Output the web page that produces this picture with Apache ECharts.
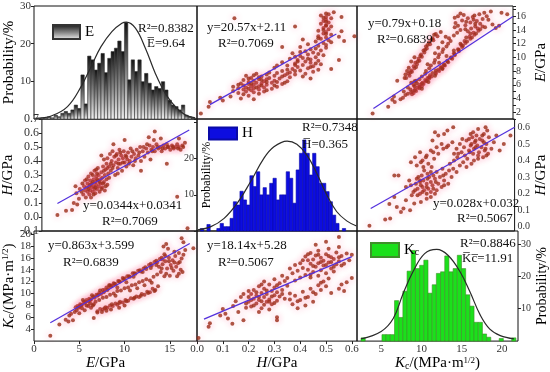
<!DOCTYPE html>
<html><head><meta charset="utf-8">
<script src="https://cdn.jsdelivr.net/npm/echarts@6/dist/echarts.min.js"></script>
<style>html,body{margin:0;padding:0;background:#fff}#c{width:550px;height:372px}</style>
</head><body><div id="c"></div>
<script>
// ---------------- DATA ----------------
// Histogram of E (GPa): bin start, bin width, probabilities (%)
const eBinStart = 0, eBinWidth = 0.37;
const eHist = [0.2,0.2,0.3,0.3,0.6,0.3,1.0,0.6,1.5,2.0,1.5,2.4,3.7,2.8,11.7,4.0,16.7,15.7,13.0,14.8,17.4,12.3,16.1,17.9,18.8,20.7,17.9,25.6,10.4,15.7,12.6,15.7,9.9,12.1,9.5,7.7,8.6,8.1,9.9,7.7,5.0,3.7,3.3,2.4,3.7,1.0,0.6,0.2];
const eCurve = [[0.2,0.2],[1.9,0.8],[3.7,3.3],[5.2,8.6],[6.3,13.9],[7.4,19.2],[8.6,23.2],[9.7,25.4],[10.2,25.7],[11.2,24.1],[12.3,18.8],[13.4,12.1],[14.5,6.8],[15.6,3.3],[16.7,1.1],[17.8,0.3]];
// Histogram of H (GPa)
const hBinStart = 0, hBinWidth = 0.0128;
const hHist = [0,0.7,0,1.8,0,0,0.7,2.1,1.2,1.2,3.5,8.1,7.2,11,8.6,7.2,15.3,12.3,16.4,10,12,10,13.2,14.6,8.6,10,10,16.4,14.6,7.7,16.9,21.5,25.2,21.5,15.5,21.5,17.8,13.2,13.2,10.9,8.1,4.4,2.1,0,0.7,0];
const hCurve = [[0.003,0.3],[0.054,1.2],[0.105,3.5],[0.156,7.7],[0.208,13.7],[0.259,20.1],[0.298,23.3],[0.349,24.9],[0.387,24],[0.426,21],[0.464,16],[0.503,10],[0.541,5.4],[0.58,2.8],[0.618,1.4]];
// Histogram of Kc (MPa·m^1/2)
const kBinStart = 2.5, kBinWidth = 0.52;
const kHist = [1,0,0,0,0,2,2,2,12.5,7.3,15.4,21.6,28,22.4,23.4,25,14.8,17.4,20.9,21.4,26.3,21.4,22.4,26.5,22.4,14.3,10.8,5.8,5.8,2.2,1.2,0,0,0.8,0,0,1];
const kCurve = [[2.5,0.7],[5,3.0],[6.5,7.0],[7.7,14.5],[8.95,21.4],[10.4,27],[11.9,28.3],[13.3,26.5],[14.8,21.4],[16,15.4],[17.3,8.1],[18.5,3.7],[19.8,1.7],[21.5,0.7]];

// Sample pairs [E, H]
const ptsEH = [[1.8,0.015],[2.8,0.045],[3.5,0.05],[3.7,0.1],[4.1,0.09],[4.3,0.13],[4.0,0.17],[4.4,0.2],[3.9,0.22],
[4.8,0.16],[4.9,0.22],[5.0,0.19],[5.0,0.26],[5.1,0.14],[5.2,0.21],[5.3,0.18],[5.3,0.24],[5.4,0.29],[5.5,0.16],[5.5,0.22],[5.6,0.19],[5.6,0.26],[5.7,0.14],[5.7,0.31],[5.8,0.21],[5.8,0.24],[5.9,0.18],[6.0,0.27],[6.0,0.22],[6.1,0.2],[6.1,0.33],[6.2,0.25],[6.2,0.17],[6.3,0.23],[6.3,0.29],[6.4,0.2],[6.5,0.26],[6.5,0.35],[6.6,0.22],[6.6,0.3],[6.7,0.18],[6.8,0.27],[6.8,0.24],[6.9,0.32],[7.0,0.21],[7.0,0.28],[7.1,0.36],[7.2,0.25],[7.3,0.3],[7.3,0.19],[7.4,0.34],[7.5,0.27],[7.6,0.23],[7.7,0.31],
[5.2,0.27],[5.4,0.2],[5.6,0.23],[5.9,0.25],[6.0,0.16],[6.2,0.21],[6.4,0.27],[6.4,0.31],[6.7,0.25],[6.9,0.2],[7.1,0.24],[7.2,0.33],[7.4,0.22],[7.8,0.28],[4.6,0.18],[4.7,0.24],[5.9,0.3],[6.3,0.34],[7.6,0.35],[8.8,0.31],
[7.5,0.38],[7.6,0.42],[7.8,0.36],[7.9,0.45],[8.0,0.33],[8.1,0.4],[8.2,0.47],[8.3,0.37],[8.4,0.43],[8.5,0.3],[8.6,0.39],[8.7,0.45],[8.8,0.35],[8.9,0.41],[9.0,0.48],[9.1,0.38],[9.2,0.44],[9.3,0.33],[9.4,0.42],[9.5,0.47],[9.6,0.39],[9.7,0.44],[9.8,0.36],[9.9,0.41],[10.0,0.46],[10.2,0.4],[10.3,0.49],[10.4,0.43],[10.6,0.37],[10.7,0.45],[10.9,0.42],[11.0,0.48],[11.2,0.44],[11.4,0.5],[11.5,0.4],[11.7,0.47],[11.9,0.43],[8.3,0.52],[9.6,0.55],[7.2,0.41],[6.9,0.44],
[8.0,0.38],[8.2,0.35],[8.6,0.44],[8.9,0.38],[9.1,0.46],[9.4,0.39],[9.8,0.43],[10.1,0.38],[10.5,0.47],[10.8,0.4],[11.3,0.46],[11.8,0.5],
[12.1,0.49],[12.3,0.46],[12.5,0.51],[12.7,0.48],[12.9,0.5],[13.1,0.47],[13.3,0.52],[13.5,0.49],[13.7,0.5],[13.9,0.47],[14.1,0.51],[14.3,0.49],[14.5,0.52],[14.7,0.5],[14.9,0.48],[15.1,0.51],[15.3,0.49],[15.5,0.5],[15.7,0.52],[15.9,0.5],[16.1,0.48],[16.3,0.51],[16.6,0.53],[13.0,0.55],[13.8,0.56],[12.4,0.57],[13.1,0.61],[15.9,0.56],
[12.2,0.52],[12.8,0.47],[13.4,0.5],[14.0,0.49],[14.6,0.5],[15.2,0.5],[15.8,0.49],[16.4,0.5],
[14.5,0.38],[15.7,0.145],[16.9,-0.08],[11.5,0.33],[12.6,0.41]];

// Sample pairs [E, Kc]
const ptsEK = [[4.6,7.7],[4.8,7.9],[5.0,7.8],[5.1,8.2],[5.3,8.1],[5.5,8.6],[5.6,8.4],[5.8,8.9],[6.0,8.7],[6.1,9.1],[6.3,9.0],[6.5,9.4],[6.7,9.3],[6.9,9.8],[7.0,9.6],[7.2,10.1],[7.4,9.9],[7.6,10.6],[7.8,10.6],[8.0,11.0],[8.2,10.9],[8.4,11.4],[8.6,11.3],[8.8,11.7],[9.0,11.6],[9.3,12.1],[9.5,12.0],[9.8,12.6],[10.0,12.5],[10.3,12.9],[10.6,12.8],[10.9,13.4],[11.2,13.3],[11.5,13.8],[11.8,13.7],[12.1,14.2],[12.4,14.1],[12.7,14.8],[13.0,14.7],[13.3,15.3],[13.6,15.2],[13.9,15.8],[14.2,15.7],[14.5,16.3],
[4.9,7.6],[5.2,8.0],[5.7,8.6],[6.2,8.9],[6.6,9.5],[7.1,9.8],[7.7,10.2],[8.1,10.6],[8.5,11.2],[8.9,11.6],[9.4,12.0],[9.9,12.4],[10.5,12.9],[11.1,13.4],[11.7,13.9],[12.3,14.4],[12.9,15.0],[13.5,15.5],[14.1,16.0],[14.4,16.6],
[9.2,11.0],[10.2,11.9],[11.0,12.8],[12.0,13.6],[12.9,14.3],[13.5,14.8],[5.4,8.9],[6.4,9.7],[7.3,10.5],[8.3,11.4],
[7.0,7.0],[7.3,7.4],[7.6,7.3],[7.9,7.7],[8.1,7.6],[8.4,8.0],[8.7,7.9],[9.0,8.3],[9.2,8.1],[9.5,8.6],[9.8,8.5],[10.1,8.9],[10.4,8.8],[10.7,9.2],[11.0,9.1],[11.3,9.5],[11.6,9.4],[11.9,9.9],[12.2,9.8],[12.5,10.3],[12.8,10.2],[13.1,10.8],[13.4,10.6],[13.7,11.2],
[7.8,7.5],[8.6,8.2],[9.4,8.4],[10.2,8.7],[11.1,9.3],[11.8,9.6],[12.6,10.1],[13.3,10.4],
[6.8,8.6],[7.2,8.9],[7.6,9.3],[8.0,9.4],[8.4,9.8],[8.8,10.0],[9.2,10.4],[9.6,10.5],[10.0,10.9],[10.4,11.0],[10.8,11.4],[11.2,11.5],[11.6,11.9],[12.0,12.1],[12.4,12.4],[12.8,12.2],[13.2,12.8],
[9.0,9.6],[10.6,10.5],[11.4,10.9],[12.2,11.4],[13.0,11.8],
[13.6,13.2],[13.8,14.5],[14.0,13.6],[14.2,14.9],[14.4,12.9],[14.5,15.4],[14.7,14.2],[14.9,16.0],[15.0,13.0],[15.1,14.8],[15.3,15.6],[15.4,13.8],[15.6,16.3],[15.7,14.5],[15.8,12.9],[15.9,15.1],[16.0,16.8],[16.2,14.0],[16.3,15.9],[16.5,16.5],[16.7,17.3],[16.0,13.3],[15.5,17.0],[14.8,17.5],[14.3,17.9],[14.6,18.3],
[14.1,14.2],[14.6,13.3],[15.2,14.3],[15.5,15.2],[16.1,15.3],[16.4,13.6],[14.9,15.4],
[16.3,19.3],[16.5,18.6],[17.6,17.6],
[1.8,2.9],[2.8,4.8],[3.5,5.6],[3.8,5.3],[4.1,6.6],[4.3,5.5],[3.9,6.3],[4.5,6.9],[4.7,7.2],[5.0,6.7],[5.3,7.5],[5.6,7.2],[6.0,7.9],[6.3,7.6],[6.6,8.2],
[6.6,5.9],[7.0,6.8],[7.5,6.9],[8.0,7.1],[8.5,7.3],[9.4,7.6],[10.0,8.0],[5.8,8.0],[6.2,8.3],[6.5,8.0]];

// Sample pairs [H, Kc]
const ptsHK = [[0.006,2.5],[0.045,4.4],[0.05,5.0],[0.09,6.3],[0.1,7.4],[0.11,6.6],[0.12,5.8],[0.137,4.9],[0.14,7.9],[0.15,8.7],[0.16,6.9],[0.18,5.5],[0.17,9.4],[0.19,7.6],
[0.2,8.6],[0.21,9.9],[0.21,7.8],[0.22,9.1],[0.22,10.6],[0.23,8.3],[0.23,9.6],[0.24,11.2],[0.24,8.9],[0.25,10.1],[0.25,7.5],[0.26,9.4],[0.26,10.8],[0.27,8.6],[0.27,9.9],[0.28,11.5],[0.28,9.0],[0.29,10.4],[0.29,8.2],[0.3,9.7],[0.3,11.0],[0.31,10.2],[0.31,8.8],[0.32,11.7],[0.32,9.5],[0.33,10.6],[0.34,12.1],[0.34,9.1],[0.35,11.3],[0.36,10.0],[0.2,10.4],[0.18,9.9],[0.26,12.0],[0.3,12.4],[0.24,6.9],[0.28,7.3],[0.31,6.0],[0.31,5.5],
[0.21,8.9],[0.22,8.0],[0.23,10.2],[0.24,9.4],[0.25,8.7],[0.25,11.5],[0.26,8.1],[0.27,10.5],[0.28,8.6],[0.29,9.5],[0.3,8.4],[0.31,11.4],[0.33,9.9],[0.19,8.3],[0.2,9.4],
[0.33,13.0],[0.35,12.6],[0.36,14.2],[0.37,13.4],[0.38,12.2],[0.38,14.8],[0.39,13.8],[0.4,12.7],[0.4,15.1],[0.41,14.3],[0.42,13.1],[0.43,15.6],
[0.42,16.2],[0.43,14.0],[0.44,15.0],[0.44,16.8],[0.45,13.6],[0.45,15.7],[0.46,14.5],[0.46,16.4],[0.47,15.1],[0.47,17.2],[0.48,13.9],[0.48,16.0],[0.49,14.7],[0.49,15.5],[0.5,16.6],[0.5,13.4],[0.51,15.2],[0.51,17.5],[0.52,14.2],[0.52,16.1],[0.53,15.8],[0.53,13.7],[0.54,16.9],[0.54,14.9],[0.55,15.4],[0.55,17.8],[0.56,16.3],[0.57,15.0],[0.58,16.7],[0.59,15.6],[0.55,19.5],[0.5,18.7],[0.46,18.2],[0.6,16.5],
[0.43,16.6],[0.45,14.6],[0.47,16.5],[0.48,15.3],[0.5,14.8],[0.51,16.3],[0.52,15.3],[0.53,14.5],[0.55,16.1],[0.56,14.7],[0.41,15.6],[0.44,13.2],
[0.37,8.2],[0.38,9.6],[0.39,7.5],[0.4,8.9],[0.41,10.3],[0.42,8.0],[0.43,9.4],[0.44,10.8],[0.45,8.6],[0.46,9.9],[0.47,11.4],[0.48,10.6],[0.49,12.0],[0.5,11.2],[0.51,12.5],[0.52,10.1],[0.44,12.7],[0.47,13.0],
[0.36,9.0],[0.39,8.7],[0.42,9.3],[0.45,10.2],[0.48,11.8],
[0.55,10.8],[0.56,11.5],[0.57,10.4],[0.58,11.9],[0.6,12.6]];

// Fitted lines (end points)
const fitHE = [[0.05,3.1],[0.54,13.4]];   // E = 20.57H + 2.11
const fitKE = [[3.0,2.55],[20,15.98]];    // E = 0.79Kc + 0.18
const fitEH = [[1.8,0.096],[17.1,0.622]]; // H = 0.0344E + 0.0341
const fitKH = [[2.65,0.11],[20,0.6]];     // H = 0.028Kc + 0.032
const fitEK = [[1.8,5.1],[17.2,18.4]];    // Kc = 0.863E + 3.599
const fitHK = [[0.027,5.7],[0.6,16.2]];   // Kc = 18.14H + 5.28

// ---------------- CHART ----------------
const FF = '"Liberation Serif","Times New Roman",serif';
const chart = echarts.init(document.getElementById('c'));
const X = [34,197,357,518], Y = [6,119,231,343];
const grid = [];
for (let r = 0; r < 3; r++) for (let c = 0; c < 3; c++)
  grid.push({left:X[c], top:Y[r], width:X[c+1]-X[c], height:Y[r+1]-Y[r], show:true, borderColor:'#111', borderWidth:1, backgroundColor:'rgba(0,0,0,0)'});

const richName = {
  i:{fontStyle:'italic', fontFamily:FF, fontSize:15, color:'#000'},
  sub:{fontFamily:FF, fontSize:10, verticalAlign:'bottom', color:'#000'},
  sup:{fontFamily:FF, fontSize:9, verticalAlign:'top', color:'#000'},
  n:{fontFamily:FF, fontSize:15, color:'#000'}
};
function ax(o){
  return Object.assign({type:'value', axisLine:{show:false}, axisTick:{show:false}, axisLabel:{show:false}, splitLine:{show:false}}, o);
}
const lbl = (size, extra) => Object.assign({show:true, fontFamily:FF, fontSize:size, color:'#333', margin:3}, extra||{});
const tick = {show:true, inside:false, length:3, lineStyle:{color:'#222'}};
const nameStyle = (size, extra) => Object.assign({fontFamily:FF, fontSize:size, color:'#000', rich:richName}, extra||{});

const kcName = '{i|K}{sub|c}{n|/(MPa·m}{sup|1/2}{n|)}';

const xAxis = [
  ax({gridIndex:0, min:0, max:18}),
  ax({gridIndex:1, min:0, max:0.62}),
  ax({gridIndex:2, min:1, max:20}),
  ax({gridIndex:3, min:0, max:18}),
  ax({gridIndex:4, min:0, max:0.62}),
  ax({gridIndex:5, min:1, max:20}),
  ax({gridIndex:6, min:0, max:18, interval:5, axisTick:tick, axisLabel:lbl(11,{showMaxLabel:false}),
      name:'{i|E}{n|/GPa}', nameLocation:'middle', nameGap:14, nameTextStyle:nameStyle(15,{padding:[0,20,0,0]})}),
  ax({gridIndex:7, min:0, max:0.62, interval:0.1, axisTick:tick, axisLabel:lbl(11,{showMaxLabel:false, formatter:v=>v.toFixed(1)}),
      name:'{i|H}{n|/GPa}', nameLocation:'middle', nameGap:14, nameTextStyle:nameStyle(15)}),
  ax({gridIndex:8, min:2, max:22, interval:1, axisLabel:lbl(11,{formatter:v=>(Math.round(v)%5===0?String(Math.round(v)):'')}),
      name:kcName, nameLocation:'middle', nameGap:14, nameTextStyle:nameStyle(15)})
];
const yAxis = [
  ax({gridIndex:0, min:0, max:30, interval:10, axisTick:tick, axisLabel:lbl(11,{showMinLabel:false}),
      name:'Probability/%', nameLocation:'middle', nameGap:14, nameTextStyle:nameStyle(15)}),
  ax({gridIndex:1, min:1, max:17.5}),
  ax({gridIndex:2, min:1, max:17.5, interval:1, position:'right', axisTick:tick,
      axisLabel:lbl(10,{formatter:v=>(Math.abs(v-Math.round(v))<1e-6 && Math.round(v)%2===0)?String(Math.round(v)):''}),
      name:'{i|E}{n|/GPa}', nameLocation:'middle', nameGap:21, nameTextStyle:nameStyle(15)}),
  ax({gridIndex:3, min:-0.1, max:0.7, interval:0.1, axisTick:tick, axisLabel:lbl(12,{formatter:v=>v.toFixed(1)}),
      name:'{i|H}{n|/GPa}', nameLocation:'middle', nameGap:14, nameTextStyle:nameStyle(15)}),
  ax({gridIndex:4, min:0, max:31, interval:10, axisTick:tick,
      axisLabel:lbl(10,{formatter:v=>(v===10||v===20)?String(v):''}),
      name:'Probability/%', nameLocation:'middle', nameGap:-16, nameTextStyle:nameStyle(12)}),
  ax({gridIndex:5, min:-0.025, max:0.65, interval:0.025, position:'right',
      axisLabel:lbl(10,{formatter:v=>{const r=Math.round(v*1000);return (r%100===0)?(r/1000).toFixed(1):'';}}),
      name:'{i|H}{n|/GPa}', nameLocation:'middle', nameGap:19, nameTextStyle:nameStyle(15)}),
  ax({gridIndex:6, min:2, max:20.5, interval:2, axisTick:tick, axisLabel:lbl(11,{showMinLabel:false, showMaxLabel:false}),
      name:kcName, nameLocation:'middle', nameGap:15, nameTextStyle:nameStyle(15)}),
  ax({gridIndex:7, min:2, max:20.5}),
  ax({gridIndex:8, min:0, max:34, interval:10, position:'right', axisTick:tick, axisLabel:lbl(10,{showMinLabel:false, showMaxLabel:false}),
      name:'Probability/%', nameLocation:'middle', nameGap:14, nameTextStyle:nameStyle(14)})
];

function bins(start, width, arr){ return arr.map((h,i)=>[start+i*width, start+(i+1)*width, h]); }
function histItem(params, api){
  const h = api.value(2);
  if (!(h > 0)) return null;
  const p0 = api.coord([api.value(0), h]);
  const p1 = api.coord([api.value(1), 0]);
  return {type:'rect', shape:{x:p0[0], y:p0[1], width:p1[0]-p0[0], height:p1[1]-p0[1]}, style:api.style()};
}
const swap = arr => arr.map(p=>[p[1],p[0]]);
const dot = {color:'#9a2c17', shadowBlur:7, shadowColor:'rgba(255,30,100,0.5)'};
function scat(i, data){ return {type:'scatter', xAxisIndex:i, yAxisIndex:i, data, symbolSize:4, itemStyle:dot, z:2, silent:true}; }
function fit(i, data){ return {type:'line', xAxisIndex:i, yAxisIndex:i, data, symbol:'none', lineStyle:{color:'#5230dd', width:1.2}, z:4, silent:true}; }
function curve(i, data){ return {type:'line', xAxisIndex:i, yAxisIndex:i, data, symbol:'none', smooth:0.4, lineStyle:{color:'#2a2a2a', width:1.2}, z:4, silent:true}; }
function hist(i, name, data, color, border){
  return {type:'custom', name, xAxisIndex:i, yAxisIndex:i, data, renderItem:histItem, encode:{x:[0,1], y:2},
          itemStyle:{color, borderColor:border, borderWidth:0.6}, z:2, silent:true};
}
const grayGrad = {type:'linear', x:0, y:0, x2:0, y2:1, colorStops:[{offset:0,color:'#111'},{offset:0.55,color:'#8a8a8a'},{offset:1,color:'#f2f2f2'}]};

const series = [
  hist(0, 'E', bins(eBinStart, eBinWidth, eHist), grayGrad, '#333'),
  curve(0, eCurve),
  scat(1, swap(ptsEH)), fit(1, fitHE),
  scat(2, swap(ptsEK)), fit(2, fitKE),
  scat(3, ptsEH), fit(3, fitEH),
  hist(4, 'H', bins(hBinStart, hBinWidth, hHist), '#0d0de0', '#0a0aa8'),
  curve(4, hCurve),
  scat(5, swap(ptsHK)), fit(5, fitKH),
  scat(6, ptsEK), fit(6, fitEK),
  scat(7, ptsHK), fit(7, fitHK),
  hist(8, 'Kc', bins(kBinStart, kBinWidth, kHist), '#1be01b', '#3f8f2a'),
  curve(8, kCurve)
];

const legTxt = {fontFamily:FF, fontSize:15, color:'#000', rich:{s:{fontFamily:FF, fontSize:10, verticalAlign:'bottom', color:'#000'}}};
const legend = [
  {data:['E'], left:47, top:19, itemWidth:27, itemHeight:14, icon:'rect', textStyle:legTxt, selectedMode:false},
  {data:['H'], left:203, top:121, itemWidth:28, itemHeight:12, icon:'rect', textStyle:legTxt, selectedMode:false},
  {data:['Kc'], left:365, top:237, itemWidth:28, itemHeight:14, icon:'rect', textStyle:legTxt, selectedMode:false,
   formatter:n=>n==='Kc'?'K{s|c}':n}
];

function txt(x, y, text){
  return {type:'text', x, y, z:100, silent:true, style:{text, font:'13px '+FF, fill:'#111', align:'left', verticalAlign:'middle'}};
}
const graphic = [
  txt(138,29,'R²=0.8382'), txt(147,44,'E\u0305=9.64'),
  txt(207,28,'y=20.57x+2.11'), txt(218,44,'R²=0.7069'),
  txt(368,24,'y=0.79x+0.18'), txt(377,40,'R²=0.6839'),
  txt(83,206,'y=0.0344x+0.0341'), txt(102,222,'R²=0.7069'),
  txt(302,128,'R²=0.7348'), txt(302,145,'H\u0305=0.365'),
  txt(433,204,'y=0.028x+0.032'), txt(457,219,'R²=0.5067'),
  txt(48,246,'y=0.863x+3.599'), txt(63,263,'R²=0.6839'),
  txt(207,246,'y=18.14x+5.28'), txt(218,263,'R²=0.5067'),
  txt(460,244,'R²=0.8846'), txt(462,259,'K\u0305c\u0305=11.91')
];

chart.setOption({animation:false, backgroundColor:'#fff', grid, xAxis, yAxis, series, legend, graphic});
</script></body></html>
